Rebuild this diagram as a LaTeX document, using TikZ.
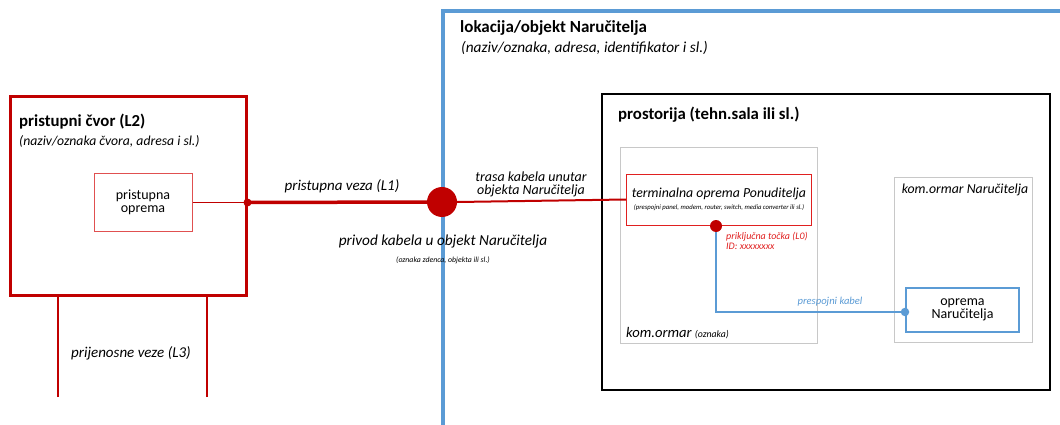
\documentclass[tikz,border=0pt]{standalone}
\usepackage{fontspec}
\setmainfont{Carlito}
\definecolor{dred}{HTML}{C00000}
\definecolor{lred}{HTML}{E05050}
\definecolor{tred}{HTML}{E02020}
\definecolor{lblue}{HTML}{5B9BD5}
\definecolor{lgrey}{HTML}{C8C8C8}
\newcommand{\fs}[1]{\fontsize{#1}{#1}\selectfont}
\begin{document}
\begin{tikzpicture}[x=1pt,y=-1pt,
  box/.style={draw,minimum width=#1,inner sep=0pt},
  ttl/.style={anchor=west,inner sep=0pt,font=\fs{17}\bfseries},
  sub/.style={anchor=west,inner sep=0pt,font=\fs{15.3}\itshape},
  lbl/.style={inner sep=0pt,font=\fs{15}\itshape,align=center},
  dot/.style={circle,fill,inner sep=0pt,minimum size=#1}]
\useasboundingbox (0,0) rectangle (1060,425);
% location frame
\draw[lblue,line width=3.5pt] (443,425) -- (443,11) -- (1060,11);
\node[ttl] (lokt) at (460,28) {lokacija/objekt Naručitelja};
\node[sub] (loks) at (461,48) {(naziv/oznaka, adresa, identifikator i sl.)};
% access node
\node[box=236pt,minimum height=198pt,draw=dred,line width=3pt] (cvor) at (128,196) {};
\node[ttl,font=\fs{16.8}\bfseries] (cvort) at (19,122) {pristupni čvor (L2)};
\node[sub,font=\fs{13.7}\itshape] (cvors) at (19,141) {(naziv/oznaka čvora, adresa i sl.)};
\node[box=98pt,minimum height=58pt,draw=lred,line width=1pt,align=center,font=\fs{14}] (po) at (143,202.5) {pristupna\\[-1.5pt]oprema};
% transmission lines
\coordinate (l3a) at (58,397);
\coordinate (l3b) at (207,397);
\draw[dred,line width=1.2pt] (l3a) -- (l3a |- cvor.south);
\draw[dred,line width=1.2pt] (l3b) -- (l3b |- cvor.south);
\node[lbl,font=\fs{15}\itshape] (l3) at (131,353) {prijenosne veze (L3)};
% room
\node[box=448pt,minimum height=296pt,line width=1.8pt] (sala) at (826,242) {};
\node[ttl,font=\fs{16.8}\bfseries] (salat) at (618,115) {prostorija (tehn.sala ili sl.)};
\node[box=197pt,minimum height=196pt,draw=lgrey,line width=0.9pt] (ormar) at (718.5,245) {};
\node[anchor=west,inner sep=0pt] (ormart) at (626,333) {\fs{14.6}\itshape kom.ormar \fs{9.8}(oznaka)};
\node[box=138pt,minimum height=165pt,draw=lgrey,line width=0.9pt] (ormarn) at (963,259.5) {};
\node[lbl,font=\fs{13.8}\itshape] (ormarnt) at (965,190) {kom.ormar Naručitelja};
\node[box=113pt,minimum height=44pt,draw=lblue,line width=1.2pt,align=center,font=\fs{14}] (opn) at (962.5,310) {oprema\\[-1.5pt]Naručitelja};
\node[box=185pt,minimum height=51pt,draw=tred,line width=1pt] (term) at (719,199.5) {};
\node[lbl,font=\fs{13.8}\itshape] (termt) at (719,194) {terminalna oprema Ponuditelja};
\node[lbl,font=\fs{6.7}\itshape] (terms) at (719,207.5) {(prespojni panel, modem, router, switch, media converter ili sl.)};
% connectors
\coordinate (j1) at (cvor.east |- po.east);
\node[dot=30pt,dred] (priv) at (442,202) {};
\draw[dred,line width=1.6pt] (po.east) -- (j1);
\draw[dred,line width=3.5pt] (j1) -- (priv.west);
\node[dot=8pt,dred] (j1dot) at (j1) {};
\draw[dred,line width=2pt] (priv.east) -- (term.west);
\node[lbl,font=\fs{15}\itshape] (l1) at (342,186) {pristupna veza (L1)};
\node[lbl,font=\fs{14}\itshape] (trasa) at (531,184.5) {trasa kabela unutar\\[-1pt]objekta Naručitelja};
\node[lbl,font=\fs{15.3}\itshape] (privt) at (443,241) {privod kabela u objekt Naručitelja};
\node[lbl,font=\fs{7.8}\itshape] (privs) at (443,260) {(oznaka zdenca, objekta ili sl.)};
% patch cable
\node[dot=8.5pt,lblue] (bdot) at (905,312) {};
\draw[lblue,line width=2.2pt] (716,226) |- (bdot.center);
\node[dot=12pt,dred] (l0) at (716,226) {};
\node[anchor=west,inner sep=0pt,align=left,text=tred,font=\fs{10}\itshape] (l0t) at (726,241) {priključna točka (L0)\\[0pt]ID: xxxxxxxx};
\node[lbl,font=\fs{10.6}\itshape,text=lblue] (pk) at (830,302) {prespojni kabel};
\end{tikzpicture}
\end{document}
